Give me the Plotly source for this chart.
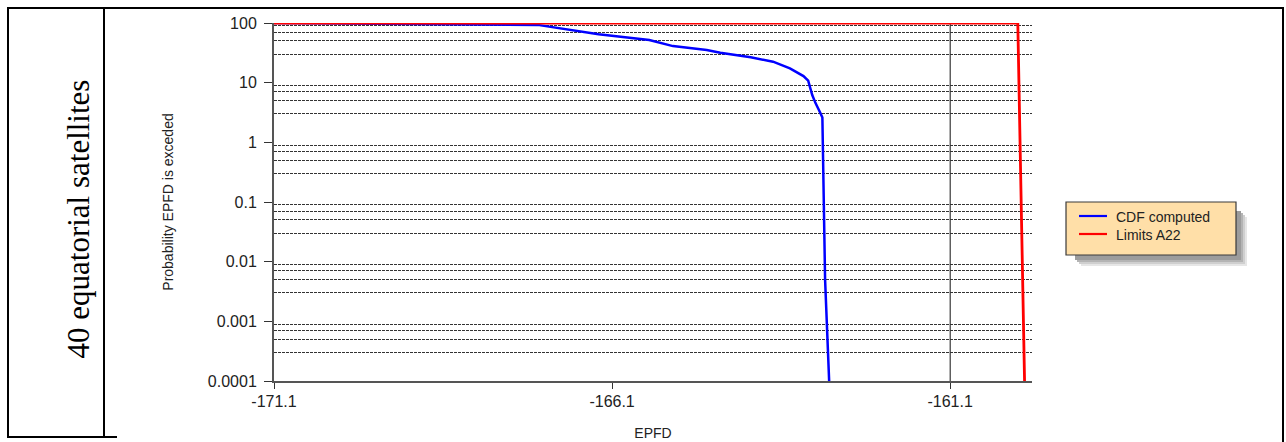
import plotly.graph_objects as go

# ---- data ----
cdf_epfd = [-171.1, -169.5, -167.2, -166.3, -165.55, -165.2, -164.7, -164.5,
            -164.05, -163.72, -163.47, -163.27, -163.2, -163.14, -163.09,
            -163.02, -162.99, -162.95, -162.89]
cdf_prob = [100, 96, 93, 65, 52, 41, 35.3, 31.8, 26.6, 22.5, 17.4, 12.9, 10.8,
            6.2, 4.5, 3.1, 2.6, 0.005, 0.0001]

limit_epfd = [-171.1, -160.1, -160.0]
limit_prob = [100, 100, 0.0001]

series_names = ["CDF computed", "Limits A22"]
series_colors = ["#0000FF", "#FF0000"]

x_ticks = [-171.1, -166.1, -161.1]
y_ticks = [0.0001, 0.001, 0.01, 0.1, 1, 10, 100]
y_tick_text = ["0.0001", "0.001", "0.01", "0.1", "1", "10", "100"]
grid_mults = [3, 5, 7, 9]
grid_vals = [m * d for d in [0.0001, 0.001, 0.01, 0.1, 1, 10] for m in grid_mults]
x_solid_grid = [-161.1]

row_label = "40 equatorial satellites"

# ---- geometry helpers (pixel -> paper) ----
W, H = 1286, 442
L, R, T, B = 274, 1032, 23, 381


def px(x):
    return (x - L) / (R - L)


def py(y):
    return (B - y) / (B - T)


fig = go.Figure()
fig.add_trace(go.Scatter(x=cdf_epfd, y=cdf_prob, mode="lines", name=series_names[0],
                         line=dict(color=series_colors[0], width=2.5)))
fig.add_trace(go.Scatter(x=limit_epfd, y=limit_prob, mode="lines", name=series_names[1],
                         line=dict(color=series_colors[1], width=2.8)))

shapes = []
annotations = []
# vertical solid grid line
for xv in x_solid_grid:
    shapes.append(dict(type="line", xref="x", yref="paper", x0=xv, x1=xv, y0=0, y1=1,
                       line=dict(color="#111111", width=1), layer="below"))
# table borders
tbl = dict(color="black", width=2)
shapes += [
    dict(type="line", xref="paper", yref="paper", x0=px(7), x1=px(1284), y0=py(8), y1=py(8), line=tbl),
    dict(type="line", xref="paper", yref="paper", x0=px(8), x1=px(8), y0=py(7), y1=py(437), line=tbl),
    dict(type="line", xref="paper", yref="paper", x0=px(104), x1=px(104), y0=py(7), y1=py(437), line=tbl),
    dict(type="line", xref="paper", yref="paper", x0=px(7), x1=px(117), y0=py(437), y1=py(437), line=tbl),
    dict(type="line", xref="paper", yref="paper", x0=px(1283), x1=px(1283), y0=py(7), y1=py(442), line=tbl),
]

# legend box (drawn by hand to match the reference geometry), with drop shadow
LX0, LX1, LY0, LY1 = 1066, 1236, 202, 255
for off, col in [(11, "#e6e6e6"), (9, "#cfcfcf"), (7, "#b4b4b4"), (5, "#9c9c9c")]:
    shapes.append(dict(type="rect", xref="paper", yref="paper",
                       x0=px(LX0 + off + 4), x1=px(LX1 + off), y0=py(LY0 + off + 4), y1=py(LY1 + off),
                       line=dict(width=0), fillcolor=col, layer="above"))
shapes.append(dict(type="rect", xref="paper", yref="paper",
                   x0=px(LX0), x1=px(LX1), y0=py(LY0), y1=py(LY1),
                   line=dict(color="#3a3a3a", width=1.2), fillcolor="#FFDFA8", layer="above"))
for i, (name, col) in enumerate(zip(series_names, series_colors)):
    yy = 216 + 18 * i
    shapes.append(dict(type="line", xref="paper", yref="paper", x0=px(1079), x1=px(1107),
                       y0=py(yy), y1=py(yy), line=dict(color=col, width=2.2), layer="above"))
    annotations.append(dict(text=name, xref="paper", yref="paper", x=px(1114), y=py(yy + 1),
                            xanchor="left", yanchor="middle", showarrow=False,
                            font=dict(size=14, color="#222222")))

annotations.append(dict(text=row_label, xref="paper", yref="paper", x=px(58), y=py(219),
                        showarrow=False, textangle=-90,
                        font=dict(family="Liberation Serif, Times New Roman, serif", size=31,
                                  color="black")))

fig.update_layout(
    width=W, height=H,
    margin=dict(l=L, r=W - R, t=T, b=H - B, pad=0),
    paper_bgcolor="white", plot_bgcolor="white",
    font=dict(family="Liberation Sans, Arial, sans-serif", color="#222222"),
    shapes=shapes,
    annotations=annotations,
    showlegend=False,
)

fig.update_xaxes(
    range=[-171.1, -159.89], tickvals=x_ticks, ticktext=[str(v) for v in x_ticks],
    showgrid=False, zeroline=False, showline=True, linecolor="#555555", linewidth=2,
    ticks="outside", ticklen=6, tickcolor="#333333", tickwidth=1,
    tickfont=dict(size=16), ticklabelstandoff=-1,
    title=dict(text="EPFD", font=dict(size=14), standoff=19),
    automargin=False,
)
fig.update_yaxes(
    type="log", range=[-4, 2], tickvals=y_ticks, ticktext=y_tick_text,
    showgrid=False, zeroline=False, showline=True, linecolor="#555555", linewidth=2,
    ticks="outside", ticklen=8, tickcolor="#333333", tickwidth=1,
    tickfont=dict(size=16), ticklabelstandoff=4,
    minor=dict(tickmode="array", tickvals=grid_vals, showgrid=True, gridcolor="#333333",
               gridwidth=1, griddash="3px,1px", ticks=""),
    title=dict(text="Probability EPFD is exceded", font=dict(size=14), standoff=31),
    automargin=False,
)

fig.write_html("out.html", config={"displayModeBar": False},
               post_script="document.body.style.margin='0';document.body.style.overflow='hidden';")
